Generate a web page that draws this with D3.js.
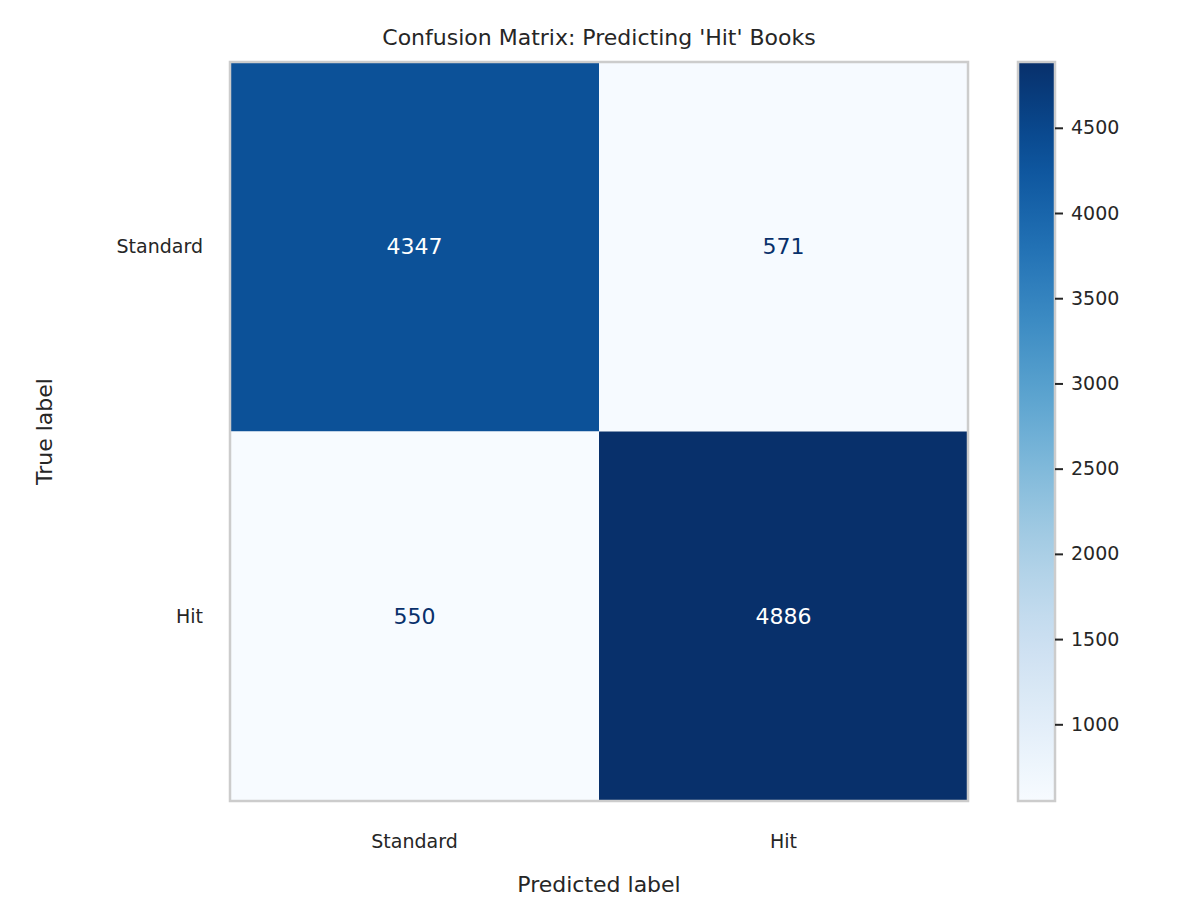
<!DOCTYPE html>
<html><head><meta charset="utf-8">
<script src="https://cdn.jsdelivr.net/npm/d3@7"></script>
<style>body{margin:0;background:#fff}text{font-family:"DejaVu Sans",sans-serif;fill:#262626}</style>
</head><body>
<svg id="c" width="1179" height="921"></svg>
<script>
const labels = ["Standard","Hit"];
const matrix = [[4347,571],[550,4886]];
const cbTicks = [1000,1500,2000,2500,3000,3500,4000,4500];
const title = "Confusion Matrix: Predicting 'Hit' Books";

const svg = d3.select("#c");
const L=230,R=968,T=62,B=801;
const x = d3.scaleBand().domain(labels).range([L,R]);
const y = d3.scaleBand().domain(labels).range([T,B]);
const flat = matrix.flat();
const vmin=d3.min(flat), vmax=d3.max(flat);
const color = d3.scaleSequential(d3.interpolateBlues).domain([vmin,vmax]);
const cells=[];
labels.forEach((t,i)=>labels.forEach((p,j)=>cells.push({t,p,v:matrix[i][j]})));
svg.selectAll("rect.cell").data(cells).join("rect")
  .attr("x",d=>x(d.p)).attr("y",d=>y(d.t)).attr("width",x.bandwidth()).attr("height",y.bandwidth())
  .attr("fill",d=>color(d.v));
svg.selectAll("text.val").data(cells).join("text")
  .attr("x",d=>x(d.p)+x.bandwidth()/2).attr("y",d=>y(d.t)+y.bandwidth()/2)
  .attr("text-anchor","middle").attr("dy","0.35em").style("font-size","22px")
  .style("fill",d=>d.v>(vmin+vmax)/2?"#ffffff":"#08306b").text(d=>d.v);
svg.append("rect").attr("x",L).attr("y",T).attr("width",R-L).attr("height",B-T)
  .attr("fill","none").attr("stroke","#cccccc").attr("stroke-width",2.5);
// tick labels
svg.selectAll("text.xt").data(labels).join("text").attr("x",d=>x(d)+x.bandwidth()/2).attr("y",848)
  .attr("text-anchor","middle").style("font-size","19px").text(d=>d);
svg.selectAll("text.yt").data(labels).join("text").attr("x",203).attr("y",d=>y(d)+y.bandwidth()/2)
  .attr("text-anchor","end").attr("dy","0.35em").style("font-size","19px").text(d=>d);
svg.append("text").attr("x",(L+R)/2).attr("y",892).attr("text-anchor","middle").style("font-size","22px").text("Predicted label");
svg.append("text").attr("transform",`translate(44,${(T+B)/2}) rotate(-90)`).attr("text-anchor","middle").attr("dy","0.35em").style("font-size","22px").text("True label");
svg.append("text").attr("x",(L+R)/2).attr("y",45).attr("text-anchor","middle").style("font-size","22px").text(title);
// colorbar
const cx0=1018,cx1=1055;
const cy = d3.scaleLinear().domain([vmin,vmax]).range([B,T]);
const defs=svg.append("defs");
const g=defs.append("linearGradient").attr("id","gr").attr("x1",0).attr("y1",1).attr("x2",0).attr("y2",0);
d3.range(0,1.0001,0.05).forEach(s=>g.append("stop").attr("offset",s).attr("stop-color",color(vmin+s*(vmax-vmin))));
svg.append("rect").attr("x",cx0).attr("y",T).attr("width",cx1-cx0).attr("height",B-T).attr("fill","url(#gr)")
  .attr("stroke","#cccccc").attr("stroke-width",2.5);
const ax=svg.append("g").attr("transform",`translate(${cx1},0)`)
  .call(d3.axisRight(cy).tickValues(cbTicks).tickSize(8).tickPadding(8).tickFormat(d3.format("d")));
ax.select(".domain").remove();
ax.selectAll("line").attr("stroke","#262626").attr("stroke-width",2);
ax.selectAll("text").style("font-size","19px").style("font-family","DejaVu Sans").attr("fill","#262626");
</script>
</body></html>
